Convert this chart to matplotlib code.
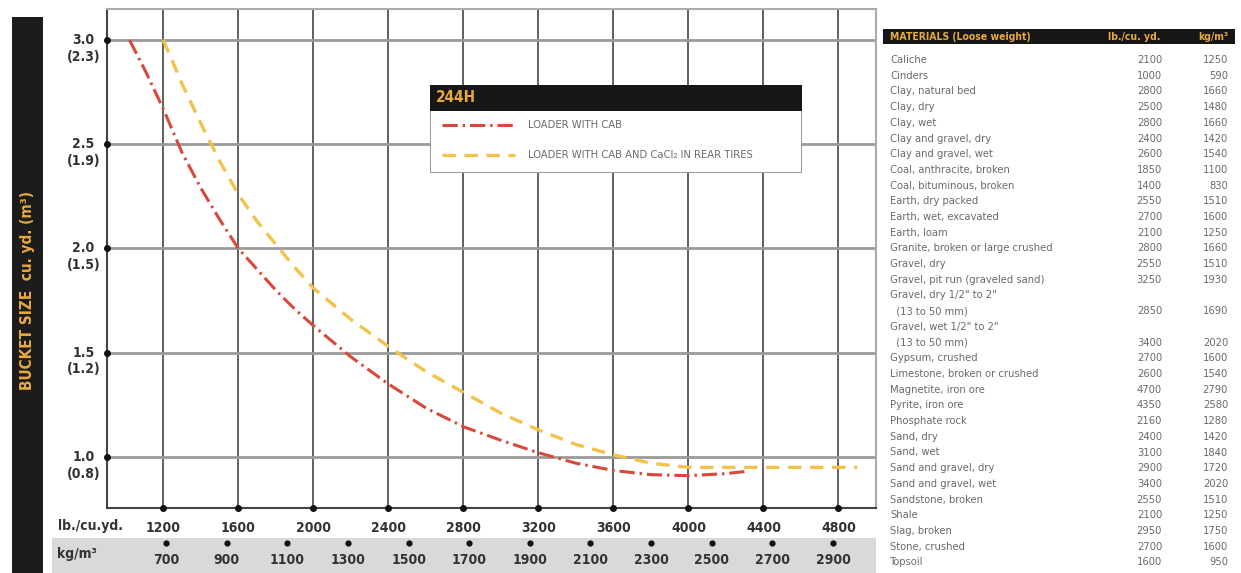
import matplotlib
matplotlib.use("Agg")
import matplotlib.pyplot as plt
from matplotlib import font_manager as fm
from matplotlib.patches import Rectangle
from matplotlib.transforms import Affine2D, offset_copy

# prefer a narrow face if one is installed (the original uses a condensed type)
narrow = [f for f in fm.fontManager.ttflist
          if 'Narrow' in f.name or 'Condensed' in f.name
          or f.stretch in ('condensed', 'semi-condensed', 'extra-condensed')]
if narrow:
    plt.rcParams['font.family'] = [narrow[0].name, 'DejaVu Sans']
    if narrow[0].stretch != 'normal':
        plt.rcParams['font.stretch'] = narrow[0].stretch
else:
    plt.rcParams['font.family'] = ['DejaVu Sans']

# bucket size curves: material density (lb./cu.yd.) vs bucket size (cu. yd.)
cab_lb = [1020, 1100, 1200, 1300, 1400, 1500, 1600, 1700, 1800, 1900, 2000, 2100,
          2200, 2400, 2600, 2800, 3000, 3200, 3400, 3600, 3800, 4000, 4200, 4300]
cab_yd = [3.00, 2.86, 2.67, 2.46, 2.29, 2.14, 2.00, 1.90, 1.80, 1.71, 1.63, 1.555,
          1.48, 1.35, 1.235, 1.145, 1.08, 1.02, 0.97, 0.935, 0.915, 0.91, 0.92, 0.93]
cacl_lb = [1200, 1300, 1400, 1500, 1600, 1700, 1800, 1900, 2000, 2200, 2400, 2600,
           2800, 3000, 3200, 3400, 3600, 3800, 4000, 4200, 4400, 4900]
cacl_yd = [3.00, 2.79, 2.60, 2.42, 2.26, 2.13, 2.02, 1.91, 1.81, 1.66, 1.53, 1.41,
           1.31, 1.21, 1.13, 1.06, 1.01, 0.97, 0.95, 0.95, 0.95, 0.95]

series_names = ['LOADER WITH CAB', 'LOADER WITH CAB AND CaCl₂ IN REAR TIRES']
model = '244H'

lb_ticks = [1200, 1600, 2000, 2400, 2800, 3200, 3600, 4000, 4400, 4800]
kg_ticks = [700, 900, 1100, 1300, 1500, 1700, 1900, 2100, 2300, 2500, 2700, 2900]
yd_ticks = [1.0, 1.5, 2.0, 2.5, 3.0]
m3_labels = ['(0.8)', '(1.2)', '(1.5)', '(1.9)', '(2.3)']

materials = ['Caliche', 'Cinders', 'Clay, natural bed', 'Clay, dry', 'Clay, wet',
             'Clay and gravel, dry', 'Clay and gravel, wet', 'Coal, anthracite, broken',
             'Coal, bituminous, broken', 'Earth, dry packed', 'Earth, wet, excavated',
             'Earth, loam', 'Granite, broken or large crushed', 'Gravel, dry',
             'Gravel, pit run (graveled sand)', 'Gravel, dry 1/2" to 2"\n  (13 to 50 mm)',
             'Gravel, wet 1/2" to 2"\n  (13 to 50 mm)', 'Gypsum, crushed',
             'Limestone, broken or crushed', 'Magnetite, iron ore', 'Pyrite, iron ore',
             'Phosphate rock', 'Sand, dry', 'Sand, wet', 'Sand and gravel, dry',
             'Sand and gravel, wet', 'Sandstone, broken', 'Shale', 'Slag, broken',
             'Stone, crushed', 'Topsoil']
mat_lb = [2100, 1000, 2800, 2500, 2800, 2400, 2600, 1850, 1400, 2550, 2700, 2100, 2800,
          2550, 3250, 2850, 3400, 2700, 2600, 4700, 4350, 2160, 2400, 3100, 2900, 3400,
          2550, 2100, 2950, 2700, 1600]
mat_kg = [1250, 590, 1660, 1480, 1660, 1420, 1540, 1100, 830, 1510, 1600, 1250, 1660,
          1510, 1930, 1690, 2020, 1600, 1540, 2790, 2580, 1280, 1420, 1840, 1720, 2020,
          1510, 1250, 1750, 1600, 950]

RED = '#d9483b'
YEL = '#f2c24a'
GOLD = '#e8aa3c'
TXT = '#333333'
GREY_TXT = '#6a6a6a'

W, H = 1241, 573
fig = plt.figure(figsize=(W / 100, H / 100), dpi=100)
fig.patch.set_facecolor('white')
# pixel coordinates (origin top-left) -> figure
px = Affine2D().scale(1 / W, -1 / H).translate(0, 1) + fig.transFigure

red_style = dict(color=RED, lw=2.2, dashes=(5, 1.6, 0.8, 1.6), solid_capstyle='butt')
yel_style = dict(color=YEL, lw=2.4, dashes=(4, 2.6))

# left black bar with axis title
fig.add_artist(Rectangle((12, 17), 31, 556, transform=px, color='#1c1c1c', lw=0, zorder=-1))
fig.text(28, 290, 'BUCKET SIZE  cu. yd. (m³)', transform=px, rotation=90,
         ha='center', va='center', color=GOLD, fontsize=11, fontweight='bold')

# main chart
ax = fig.add_axes([107 / W, 1 - 508 / H, 769 / W, 499 / H])
ax.set_xlim(900, 5000)
ax.set_ylim(0.755, 3.149)
ax.set_xticks(lb_ticks)
ax.set_yticks(yd_ticks)
ax.xaxis.grid(True, color='#555555', lw=1.3)
ax.yaxis.grid(True, color='#9a9a9a', lw=2.0)
ax.set_axisbelow(True)
ax.tick_params(length=0)
ax.set_yticklabels([])
ax.set_xticklabels([f'{v}' for v in lb_ticks], fontsize=10, fontweight='bold', color=TXT)
ax.tick_params(axis='x', pad=9)
for side in ['left', 'bottom']:
    ax.spines[side].set_color('#444444')
    ax.spines[side].set_linewidth(1.5)
for side in ['top', 'right']:
    ax.spines[side].set_color('#aaaaaa')
    ax.spines[side].set_linewidth(1.5)

ax.plot(cab_lb, cab_yd, **red_style, zorder=3)
ax.plot(cacl_lb, cacl_yd, **yel_style, zorder=3)

# tick dots
ax.scatter([900] * len(yd_ticks), yd_ticks, s=16, color='#111111', clip_on=False, zorder=5)
ax.scatter(lb_ticks, [0.755] * len(lb_ticks), s=16, color='#111111', clip_on=False, zorder=5)

# y labels: cu. yd. value with m3 value underneath
t1 = offset_copy(ax.transData, fig=fig, x=-17, y=0, units='points')
t2 = offset_copy(ax.transData, fig=fig, x=-17, y=-12, units='points')
for v, m in zip(yd_ticks, m3_labels):
    ax.text(900, v, f'{v:.1f}', transform=t1, ha='center', va='center',
            fontsize=10, fontweight='bold', color=TXT)
    ax.text(900, v, m, transform=t2, ha='center', va='center',
            fontsize=10, fontweight='bold', color=TXT)

fig.text(58, 526, 'lb./cu.yd.', transform=px, ha='left', va='center',
         fontsize=10, fontweight='bold', color=TXT)

# metric scale band (drawn behind the metric axes)
fig.add_artist(Rectangle((52, 538), 824, 35, transform=px, color='#d9d9d9', lw=0, zorder=-1))
fig.text(57, 554, 'kg/m³', transform=px, ha='left', va='center',
         fontsize=10, fontweight='bold', color=TXT)
kax = fig.add_axes([107 / W, 0, 769 / W, 35 / H])
kax.set_xlim(505, 3042)
kax.set_ylim(0, 1)
kax.axis('off')
kax.scatter(kg_ticks, [0.87] * len(kg_ticks), s=12, color='#111111', clip_on=False)
for k in kg_ticks:
    kax.text(k, 0.36, f'{k}', ha='center', va='center', fontsize=10,
             fontweight='bold', color=TXT)

# legend box
lax = fig.add_axes([430 / W, 1 - 173 / H, 372 / W, 88 / H])
lax.set_xlim(0, 372)
lax.set_ylim(88, 0)
lax.axis('off')
lax.add_patch(Rectangle((0, 0), 372, 88, facecolor='white', edgecolor='#888888', lw=1.2))
lax.add_patch(Rectangle((0, 0), 372, 26, facecolor='#161616', lw=0))
lax.text(6, 13, model, ha='left', va='center', color=GOLD, fontsize=11, fontweight='bold')
lax.plot([12, 85], [40, 40], **red_style)
lax.plot([12, 85], [70, 70], **yel_style)
lax.text(98, 40, series_names[0], ha='left', va='center', fontsize=8, color=GREY_TXT)
lax.text(98, 70, series_names[1], ha='left', va='center', fontsize=8, color=GREY_TXT)

# materials table
fig.add_artist(Rectangle((883, 29), 352, 15, transform=px, color='#161616', lw=0, zorder=-1))
fig.text(890, 36.5, 'MATERIALS (Loose weight)', transform=px, ha='left', va='center',
         color=GOLD, fontsize=7.5, fontweight='bold')
fig.text(1160, 36.5, 'lb./cu. yd.', transform=px, ha='right', va='center',
         color=GOLD, fontsize=7.5, fontweight='bold')
fig.text(1228, 36.5, 'kg/m³', transform=px, ha='right', va='center',
         color=GOLD, fontsize=7.5, fontweight='bold')

row_h = 15.7
line = 0
for name, lb, kg in zip(materials, mat_lb, mat_kg):
    for p in name.split('\n'):
        fig.text(890, 60 + line * row_h, p, transform=px, ha='left', va='center',
                 fontsize=8, color=GREY_TXT)
        line += 1
    y = 60 + (line - 1) * row_h
    fig.text(1162, y, f'{lb}', transform=px, ha='right', va='center', fontsize=8, color=GREY_TXT)
    fig.text(1228, y, f'{kg}', transform=px, ha='right', va='center', fontsize=8, color=GREY_TXT)

fig.savefig('out.png', dpi=100)
